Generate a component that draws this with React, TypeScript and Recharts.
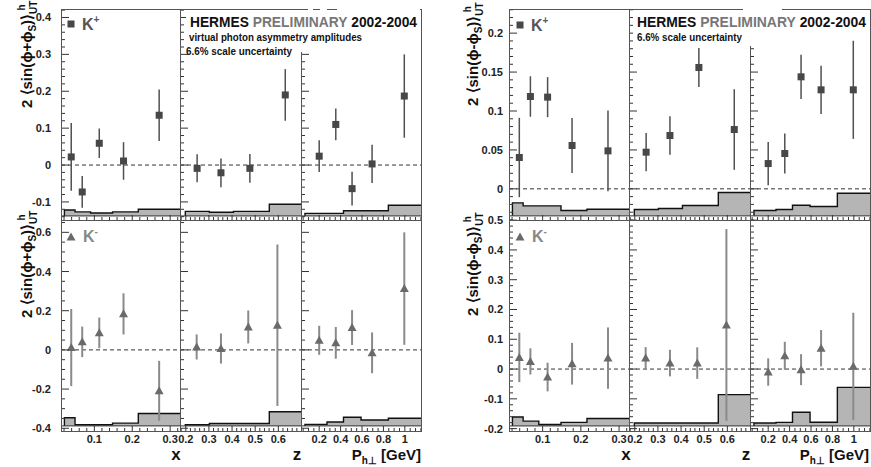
import React from 'react';
import { ComposedChart, XAxis, YAxis, Area, Scatter, ErrorBar, ReferenceLine } from 'recharts';

const FONT = "'Liberation Sans', Arial, Helvetica, sans-serif";

// mean kinematics of the bins
const xMeans = [0.039, 0.068, 0.113, 0.177, 0.271];
const zMeansKp = [0.249, 0.352, 0.477, 0.63];
const zMeansKm = [0.247, 0.352, 0.47, 0.596];
const ptMeans = [0.2, 0.355, 0.507, 0.694, 0.995];

// bin edges used for the systematic bands
const xEdges = [0.021, 0.049, 0.09, 0.148, 0.216, 0.326];
const zEdges = [0.198, 0.302, 0.406, 0.561, 0.698];
const ptEdges = [0.067, 0.273, 0.427, 0.591, 0.846, 1.151];

// 2<sin(phi+phiS)> , K+
const sumKpX = [0.022, -0.073, 0.059, 0.011, 0.135];
const sumKpXErr = [0.092, 0.043, 0.04, 0.051, 0.07];
const sumKpXSys = [-0.122, -0.127, -0.13, -0.127, -0.12];
const sumKpZ = [-0.009, -0.021, -0.009, 0.19];
const sumKpZErr = [0.038, 0.039, 0.039, 0.07];
const sumKpZSys = [-0.1255, -0.128, -0.1255, -0.1065];
const sumKpPt = [0.024, 0.11, -0.064, 0.003, 0.187];
const sumKpPtErr = [0.043, 0.043, 0.046, 0.052, 0.113];
const sumKpPtSys = [-0.131, -0.131, -0.124, -0.124, -0.109];

// 2<sin(phi+phiS)> , K-
const sumKmX = [0.012, 0.041, 0.087, 0.184, -0.209];
const sumKmXErr = [0.197, 0.078, 0.078, 0.105, 0.153];
const sumKmXSys = [-0.346, -0.382, -0.382, -0.374, -0.325];
const sumKmZ = [0.015, 0.007, 0.117, 0.126];
const sumKmZErr = [0.064, 0.077, 0.084, 0.412];
const sumKmZSys = [-0.382, -0.376, -0.376, -0.316];
const sumKmPt = [0.049, 0.036, 0.114, -0.015, 0.313];
const sumKmPtErr = [0.074, 0.081, 0.089, 0.104, 0.287];
const sumKmPtSys = [-0.38, -0.368, -0.344, -0.358, -0.349];

// 2<sin(phi-phiS)> , K+
const diffKpX = [0.0403, 0.1186, 0.1178, 0.0557, 0.0488];
const diffKpXErr = [0.051, 0.026, 0.0257, 0.0353, 0.0518];
const diffKpXSys = [-0.018, -0.0218, -0.0218, -0.0278, -0.0261];
const diffKpZ = [0.0471, 0.0685, 0.1559, 0.0762];
const diffKpZErr = [0.0246, 0.0246, 0.025, 0.0518];
const diffKpZSys = [-0.0266, -0.0253, -0.0214, -0.0047];
const diffKpPt = [0.0325, 0.0454, 0.1439, 0.1272, 0.1272];
const diffKpPtErr = [0.0278, 0.0257, 0.0285, 0.031, 0.063];
const diffKpPtSys = [-0.0278, -0.0266, -0.021, -0.0227, -0.0056];

// 2<sin(phi-phiS)> , K-
const diffKmX = [0.039, 0.0257, -0.0268, 0.0179, 0.0368];
const diffKmXErr = [0.083, 0.044, 0.048, 0.07, 0.103];
const diffKmXSys = [-0.161, -0.175, -0.186, -0.179, -0.166];
const diffKmZ = [0.0368, 0.02, 0.02, 0.148];
const diffKmZErr = [0.037, 0.0446, 0.053, 0.322];
const diffKmZSys = [-0.181, -0.181, -0.181, -0.086];
const diffKmPt = [-0.01, 0.0446, -0.002, 0.07, 0.009];
const diffKmPtErr = [0.046, 0.047, 0.052, 0.061, 0.18];
const diffKmPtSys = [-0.181, -0.179, -0.145, -0.1786, -0.0614];

// layout
const LW = 60; // room left of each pad for y labels
const BH = 40; // room under each pad for x labels
const TM = 10; // room above each pad so edge labels are not cut
const LEFT_COLS = [61, 180, 301, 421];
const RIGHT_COLS = [509, 629, 750, 870];
const ROWS = [9, 220, 431];

const xAxes = [
  { domain: [0.012, 0.326], majors: [0.1, 0.2, 0.3], minor: 0.02 },
  { domain: [0.175, 0.698], majors: [0.2, 0.3, 0.4, 0.5, 0.6], minor: 0.02 },
  { domain: [0.03, 1.151], majors: [0.2, 0.4, 0.6, 0.8, 1], minor: 0.05 },
];
const sumKpAxis = { domain: [-0.149, 0.423], majors: [-0.1, 0, 0.1, 0.2, 0.3, 0.4], minor: 0.02, base: -0.138 };
const sumKmAxis = { domain: [-0.414, 0.663], majors: [-0.4, -0.2, 0, 0.2, 0.4, 0.6], minor: 0.05, base: -0.388 };
const diffKpAxis = { domain: [-0.04, 0.231], majors: [0, 0.05, 0.1, 0.15, 0.2], minor: 0.01, base: -0.0347 };
const diffKmAxis = { domain: [-0.208, 0.5005], majors: [-0.2, -0.1, 0, 0.1, 0.2, 0.3, 0.4, 0.5], minor: 0.02, base: -0.191 };

const steps = (lo: number, hi: number, step: number) => {
  const out: number[] = [];
  for (let k = Math.ceil(lo / step - 1e-9); k * step <= hi + 1e-9; k++) out.push(Math.round(k * step * 1e6) / 1e6);
  return out;
};
const isMajor = (list: number[], v: number) => list.some((m) => Math.abs(m - v) < 1e-6);
const fmt = (v: number) => String(parseFloat(v.toFixed(3)));

function Pad(props: any) {
  const { left, top, w, h, xa, ya, xLabels, yLabels, yGap, means, vals, errs, edges, sys, kind } = props;
  const xt = steps(xa.domain[0], xa.domain[1], xa.minor);
  const yt = steps(ya.domain[0], ya.domain[1], ya.minor);
  const pts = means.map((m: number, i: number) => ({ x: m, y: vals[i], err: errs[i] }));
  const band = [
    { x: edges[0], v: ya.base },
    ...sys.map((v: number, i: number) => ({ x: edges[i], v })),
    { x: edges[edges.length - 1], v: sys[sys.length - 1] },
  ];
  const kp = kind === 'kp';

  const xTick = (p: any) => {
    const v = p.payload.value;
    const maj = isMajor(xa.majors, v);
    return (
      <g>
        <line x1={p.x} x2={p.x} y1={p.y} y2={p.y - (maj ? 5 : 3)} stroke="#333" />
        {xLabels && maj && (
          <text x={p.x} y={p.y + 12} textAnchor="middle" fontSize={11} fontWeight="bold" fontFamily={FONT} fill="#222">
            {fmt(v)}
          </text>
        )}
      </g>
    );
  };
  const yTick = (p: any) => {
    const v = p.payload.value;
    const maj = isMajor(ya.majors, v);
    return (
      <g>
        <line x1={p.x} x2={p.x + (maj ? 8 : 4)} y1={p.y} y2={p.y} stroke="#333" />
        {yLabels && maj && (
          <text x={p.x - yGap} y={p.y + 4} textAnchor="end" fontSize={11} fontWeight="bold" fontFamily={FONT} fill="#222">
            {fmt(v)}
          </text>
        )}
      </g>
    );
  };
  const marker = (p: any) => {
    const { cx, cy } = p;
    if (cx == null || cy == null) return <g />;
    if (kp) return <rect x={cx - 3.5} y={cy - 3.5} width={7} height={7} fill="#474747" />;
    return <polygon points={`${cx},${cy - 4.5} ${cx + 4.5},${cy + 3.5} ${cx - 4.5},${cy + 3.5}`} fill="#6a6a6a" />;
  };

  return (
    <div style={{ position: 'absolute', left: left - LW, top: top - TM }}>
      <ComposedChart width={w + LW} height={h + BH + TM} margin={{ top: TM, right: 0, bottom: 0, left: 0 }}>
        <XAxis type="number" dataKey="x" domain={xa.domain} allowDataOverflow ticks={xt} interval={0}
          tickSize={0} tickMargin={0} axisLine={false} tickLine={false} height={BH} tick={xTick} />
        <YAxis type="number" domain={ya.domain} allowDataOverflow ticks={yt} interval={0}
          tickSize={0} tickMargin={0} axisLine={false} tickLine={false} width={LW} tick={yTick} />
        <Area data={band} dataKey="v" type="stepAfter" baseValue={ya.base} fill="#b5b5b5" fillOpacity={1}
          stroke="#111" strokeWidth={1.4} isAnimationActive={false} />
        <ReferenceLine y={ya.base} stroke="#333" strokeWidth={1} />
        <ReferenceLine y={0} stroke="#333" strokeDasharray="4 3" strokeWidth={1} />
        <Scatter data={pts} dataKey="y" shape={marker} isAnimationActive={false}>
          <ErrorBar dataKey="err" direction="y" width={0} stroke={kp ? '#505050' : '#8a8a8a'} strokeWidth={kp ? 1.5 : 2} />
        </Scatter>
      </ComposedChart>
    </div>
  );
}

const YTitle = ({ x, y, sign }: { x: number; y: number; sign: string }) => (
  <text transform={`translate(${x},${y}) rotate(-90)`} fontSize={15} fill="#111">
    {`2 ⟨sin(ϕ${sign}ϕ`}
    <tspan fontSize={10} dy={4}>S</tspan>
    <tspan dy={-4}>)⟩</tspan>
    <tspan fontSize={10} dy={5}>UT</tspan>
    <tspan fontSize={10} dx={-10} dy={-12}>h</tspan>
  </text>
);

// title split in three coloured pieces, each fitted to its width
const Title = ({ x, k }: { x: number; k: number }) => {
  const u = 15 * k;
  const w1 = 4.278 * u;
  const w2 = 6.889 * u;
  const w3 = 4.781 * u;
  const x2 = x + w1 + 0.278 * u;
  const x3 = x2 + w2 + 0.278 * u;
  return (
    <g fontSize={15}>
      <text x={x} y={27} fill="#111" textLength={w1} lengthAdjust="spacingAndGlyphs">HERMES</text>
      <text x={x2} y={27} fill="#777" textLength={w2} lengthAdjust="spacingAndGlyphs">PRELIMINARY</text>
      <text x={x3} y={27} fill="#111" textLength={w3} lengthAdjust="spacingAndGlyphs">2002-2004</text>
    </g>
  );
};

export default function App() {
  const means = [xMeans, null, ptMeans];
  const edges = [xEdges, zEdges, ptEdges];
  const panels = [
    {
      cols: LEFT_COLS,
      gap: 10,
      rows: [
        { ya: sumKpAxis, kind: 'kp', zm: zMeansKp, vals: [sumKpX, sumKpZ, sumKpPt], errs: [sumKpXErr, sumKpZErr, sumKpPtErr], sys: [sumKpXSys, sumKpZSys, sumKpPtSys] },
        { ya: sumKmAxis, kind: 'km', zm: zMeansKm, vals: [sumKmX, sumKmZ, sumKmPt], errs: [sumKmXErr, sumKmZErr, sumKmPtErr], sys: [sumKmXSys, sumKmZSys, sumKmPtSys] },
      ],
    },
    {
      cols: RIGHT_COLS,
      gap: 6,
      rows: [
        { ya: diffKpAxis, kind: 'kp', zm: zMeansKp, vals: [diffKpX, diffKpZ, diffKpPt], errs: [diffKpXErr, diffKpZErr, diffKpPtErr], sys: [diffKpXSys, diffKpZSys, diffKpPtSys] },
        { ya: diffKmAxis, kind: 'km', zm: zMeansKm, vals: [diffKmX, diffKmZ, diffKmPt], errs: [diffKmXErr, diffKmZErr, diffKmPtErr], sys: [diffKmXSys, diffKmZSys, diffKmPtSys] },
      ],
    },
  ];

  const pads: any[] = [];
  const frames: any[] = [];
  panels.forEach((pn, pi) => {
    pn.rows.forEach((r, ri) => {
      [0, 1, 2].forEach((ci) => {
        const left = pn.cols[ci];
        const w = pn.cols[ci + 1] - left;
        const top = ROWS[ri];
        const h = ROWS[ri + 1] - top;
        pads.push(
          <Pad key={`${pi}-${ri}-${ci}`} left={left} top={top} w={w} h={h} xa={xAxes[ci]} ya={r.ya}
            xLabels={ri === 1} yLabels={ci === 0} yGap={pn.gap}
            means={ci === 1 ? r.zm : means[ci]} vals={r.vals[ci]} errs={r.errs[ci]}
            edges={edges[ci]} sys={r.sys[ci]} kind={r.kind} />
        );
        frames.push(<rect key={`f${pi}${ri}${ci}`} x={left + 0.5} y={top + 0.5} width={w} height={h} fill="none" stroke="#555" />);
      });
    });
  });

  return (
    <div style={{ position: 'absolute', left: 0, top: 0, width: 871, height: 467, background: '#fff', overflow: 'hidden' }}>
      {pads}
      <svg width={871} height={467} style={{ position: 'absolute', left: 0, top: 0, pointerEvents: 'none' }}
        fontFamily={FONT} fontWeight="bold">
        {frames}
        <rect x={186} y={0} width={234} height={52} fill="#fff" />
        <line x1={180} x2={308} y1={9.5} y2={9.5} stroke="#555" />
        <line x1={313} x2={320} y1={9.5} y2={9.5} stroke="#555" />
        <line x1={327} x2={337} y1={9.5} y2={9.5} stroke="#555" />
        <rect x={633} y={0} width={149} height={46} fill="#fff" />
        <line x1={509} x2={743} y1={9.5} y2={9.5} stroke="#555" />

        <Title x={190} k={0.917} />
        <text x={189} y={41} fontSize={11} fill="#111" textLength={173} lengthAdjust="spacingAndGlyphs">virtual photon asymmetry amplitudes</text>
        <text x={186} y={55} fontSize={11} fill="#111" textLength={106} lengthAdjust="spacingAndGlyphs">6.6% scale uncertainty</text>

        <Title x={637} k={0.925} />
        <text x={637} y={41} fontSize={11} fill="#111" textLength={105} lengthAdjust="spacingAndGlyphs">6.6% scale uncertainty</text>

        <rect x={67.5} y={20.5} width={7} height={7} fill="#474747" />
        <text x={82} y={30} fontSize={16} fill="#555">K<tspan fontSize={10} dy={-7}>+</tspan></text>
        <polygon points="71,232.5 75.5,240.5 66.5,240.5" fill="#6a6a6a" />
        <text x={83} y={242} fontSize={16} fill="#888">K<tspan fontSize={10} dy={-7}>-</tspan></text>

        <rect x={516.5} y={21.5} width={7} height={7} fill="#474747" />
        <text x={531} y={31} fontSize={16} fill="#555">K<tspan fontSize={10} dy={-7}>+</tspan></text>
        <polygon points="520,232.5 524.5,240.5 515.5,240.5" fill="#6a6a6a" />
        <text x={532} y={242} fontSize={16} fill="#888">K<tspan fontSize={10} dy={-7}>-</tspan></text>

        <YTitle x={32} y={108} sign="+" />
        <YTitle x={32} y={318} sign="+" />
        <YTitle x={478} y={106} sign="-" />
        <YTitle x={478} y={316} sign="-" />

        <text x={176} y={460} fontSize={17} textAnchor="middle" fill="#111">x</text>
        <text x={297} y={460} fontSize={17} textAnchor="middle" fill="#111">z</text>
        <text x={421} y={460} fontSize={15} textAnchor="end" fill="#111">P<tspan fontSize={10} dy={4}>h⊥</tspan><tspan dy={-4}> [GeV]</tspan></text>
        <text x={626} y={460} fontSize={17} textAnchor="middle" fill="#111">x</text>
        <text x={746} y={460} fontSize={17} textAnchor="middle" fill="#111">z</text>
        <text x={869} y={460} fontSize={15} textAnchor="end" fill="#111">P<tspan fontSize={10} dy={4}>h⊥</tspan><tspan dy={-4}> [GeV]</tspan></text>
      </svg>
    </div>
  );
}
